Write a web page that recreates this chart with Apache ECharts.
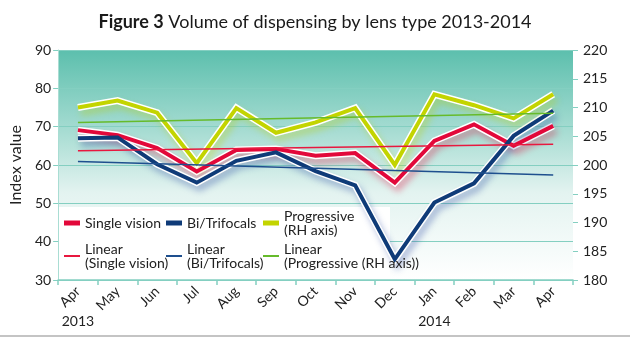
<!DOCTYPE html>
<html>
<head>
<meta charset="utf-8">
<script src="https://cdn.jsdelivr.net/npm/echarts@6/dist/echarts.min.js"></script>
<style>
  html, body { margin: 0; padding: 0; background: #fff; }
  #chart { width: 630px; height: 338px; }
</style>
</head>
<body>
<div id="chart"></div>
<script>
// Months, April 2013 to April 2014
const months = ['Apr', 'May', 'Jun', 'Jul', 'Aug', 'Sep', 'Oct', 'Nov', 'Dec', 'Jan', 'Feb', 'Mar', 'Apr'];
// Year captions shown under the first month of each year
const yearLabels = ['2013', '', '', '', '', '', '', '', '', '2014', '', '', ''];

// Index values (left axis)
const singleVision = [69.1, 67.8, 64.4, 58.3, 63.9, 64.2, 62.4, 63.1, 55.4, 66.3, 70.6, 65.0, 70.2];
const biTrifocals = [67.0, 67.2, 60.2, 55.4, 61.1, 63.3, 58.4, 54.7, 35.4, 50.2, 55.2, 67.6, 74.2];
// Index values (right axis)
const progressive = [210.0, 211.2, 209.1, 200.3, 209.9, 205.6, 207.4, 209.9, 200.0, 212.3, 210.4, 208.1, 212.3];

// Linear trend end points (first and last month)
const linearSingle = [63.7, 65.4];
const linearBi = [60.9, 57.4];
const linearProg = [207.4, 209.0];

// Axis ticks
const leftTicks = [30, 40, 50, 60, 70, 80, 90];
const rightTicks = [180, 185, 190, 195, 200, 205, 210, 215, 220];

const RED = '#e2083a';
const BLUE = '#0f3b78';
const LIME = '#c3d400';
const LIN_RED = '#e8183f';
const LIN_BLUE = '#1e4f8e';
const LIN_GREEN = '#66bb2b';
const TEAL = '#84cfc1';
const FONT = 'Lato';

const trend = (pair) => [[0, pair[0]], [months.length - 1, pair[1]]];

function mainLine(name, data, color, yAxisIndex, shadow) {
  return [
    {
      name, type: 'line', data, yAxisIndex, z: 4,
      symbol: 'none', silent: true, color,
      lineStyle: { color, width: 4, join: 'miter', miterLimit: 20 }
    },
    {
      name, type: 'line', data, yAxisIndex, z: 3,
      symbol: 'none', silent: true,
      lineStyle: {
        color: '#ffffff', width: 7, join: 'miter', miterLimit: 20,
        shadowColor: shadow, shadowBlur: 6, shadowOffsetX: 3, shadowOffsetY: 5
      }
    }
  ];
}

function trendLine(name, pair, color, yAxisIndex) {
  return {
    name, type: 'line', data: trend(pair), yAxisIndex, z: 5,
    symbol: 'none', silent: true, color,
    lineStyle: { color, width: 1.6 }
  };
}

// One legend per entry so the three columns line up like a table
function legendItem(name, left, top, thick, twoLines) {
  return {
    data: [name],
    left, top, orient: 'horizontal', padding: 0, z: 6,
    icon: 'rect', itemWidth: 16, itemHeight: thick ? 5 : 2, itemGap: 4,
    selectedMode: false,
    textStyle: {
      fontFamily: FONT, fontSize: 14, color: '#222', lineHeight: 14,
      padding: twoLines ? [14, 0, 0, 0] : 0
    }
  };
}

const chart = echarts.init(document.getElementById('chart'), null, { renderer: 'canvas' });

chart.setOption({
  backgroundColor: '#ffffff',
  animation: false,
  title: {
    left: 'center', top: 8,
    text: '{b|Figure 3} Volume of dispensing by lens type 2013-2014',
    textStyle: {
      fontFamily: FONT, fontSize: 18, fontWeight: 'normal', color: '#1a1a1a',
      rich: { b: { fontFamily: FONT, fontSize: 18, fontWeight: 'bold', color: '#1a1a1a' } }
    }
  },
  grid: {
    left: 58, right: 57, top: 50, bottom: 58,
    show: true, borderWidth: 0,
    backgroundColor: new echarts.graphic.LinearGradient(0, 0, 0, 1, [
      { offset: 0, color: '#5cbfad' },
      { offset: 0.35, color: '#a6dcd2' },
      { offset: 0.62, color: '#e3f3f0' },
      { offset: 1, color: '#ffffff' }
    ])
  },
  graphic: [
    {
      type: 'rect', z: 1, silent: true,
      shape: { x: 59, y: 207, width: 331, height: 72 },
      style: { fill: '#ffffff' }
    },
    {
      type: 'rect', z: 1, silent: true,
      shape: { x: 0, y: 335, width: 630, height: 2 },
      style: { fill: '#c4c4c4' }
    }
  ],
  legend: [
    legendItem('Single vision', 64, 216, true, false),
    legendItem('Bi/Trifocals', 166, 216, true, false),
    legendItem('Progressive\n(RH axis)', 263, 202, true, true),
    legendItem('Linear\n(Single vision)', 64, 235, false, true),
    legendItem('Linear\n(Bi/Trifocals)', 166, 235, false, true),
    legendItem('Linear\n(Progressive (RH axis))', 263, 235, false, true)
  ],
  xAxis: [
    {
      type: 'category', data: months, boundaryGap: true,
      axisLine: { show: true, lineStyle: { color: TEAL, width: 1.5 } },
      axisTick: { show: true, length: 5, lineStyle: { color: TEAL, width: 1.5 } },
      axisLabel: {
        interval: 0, rotate: 45, margin: 9,
        fontFamily: FONT, fontSize: 14, color: '#222'
      },
      splitLine: { show: false }
    },
    {
      type: 'category', data: yearLabels, boundaryGap: true, position: 'bottom', offset: 34,
      axisLine: { show: false }, axisTick: { show: false },
      axisLabel: { interval: 0, fontFamily: FONT, fontSize: 14, color: '#222', margin: 0 },
      splitLine: { show: false }
    }
  ],
  yAxis: [
    {
      type: 'value', min: leftTicks[0], max: leftTicks[leftTicks.length - 1], interval: 10,
      name: 'Index value', nameLocation: 'middle', nameGap: 27,
      nameTextStyle: { fontFamily: FONT, fontSize: 16, color: '#222' },
      axisLine: { show: true, lineStyle: { color: '#a9ddd3', width: 1 } },
      axisTick: { show: true, length: 5, lineStyle: { color: TEAL } },
      axisLabel: { margin: 7, fontFamily: FONT, fontSize: 14, color: '#222' },
      splitLine: { show: true, lineStyle: { color: TEAL, width: 1.2 } }
    },
    {
      type: 'value', min: rightTicks[0], max: rightTicks[rightTicks.length - 1], interval: 5,
      position: 'right',
      axisLine: { show: false },
      axisTick: { show: true, length: 5, lineStyle: { color: TEAL } },
      axisLabel: { margin: 10, fontFamily: FONT, fontSize: 14, color: '#222' },
      splitLine: { show: false }
    }
  ],
  series: [
    ...mainLine('Single vision', singleVision, RED, 0, 'rgba(226,8,58,0.35)'),
    ...mainLine('Bi/Trifocals', biTrifocals, BLUE, 0, 'rgba(40,70,160,0.35)'),
    ...mainLine('Progressive\n(RH axis)', progressive, LIME, 1, 'rgba(190,205,0,0.35)'),
    trendLine('Linear\n(Single vision)', linearSingle, LIN_RED, 0),
    trendLine('Linear\n(Bi/Trifocals)', linearBi, LIN_BLUE, 0),
    trendLine('Linear\n(Progressive (RH axis))', linearProg, LIN_GREEN, 1)
  ]
});
</script>
</body>
</html>
